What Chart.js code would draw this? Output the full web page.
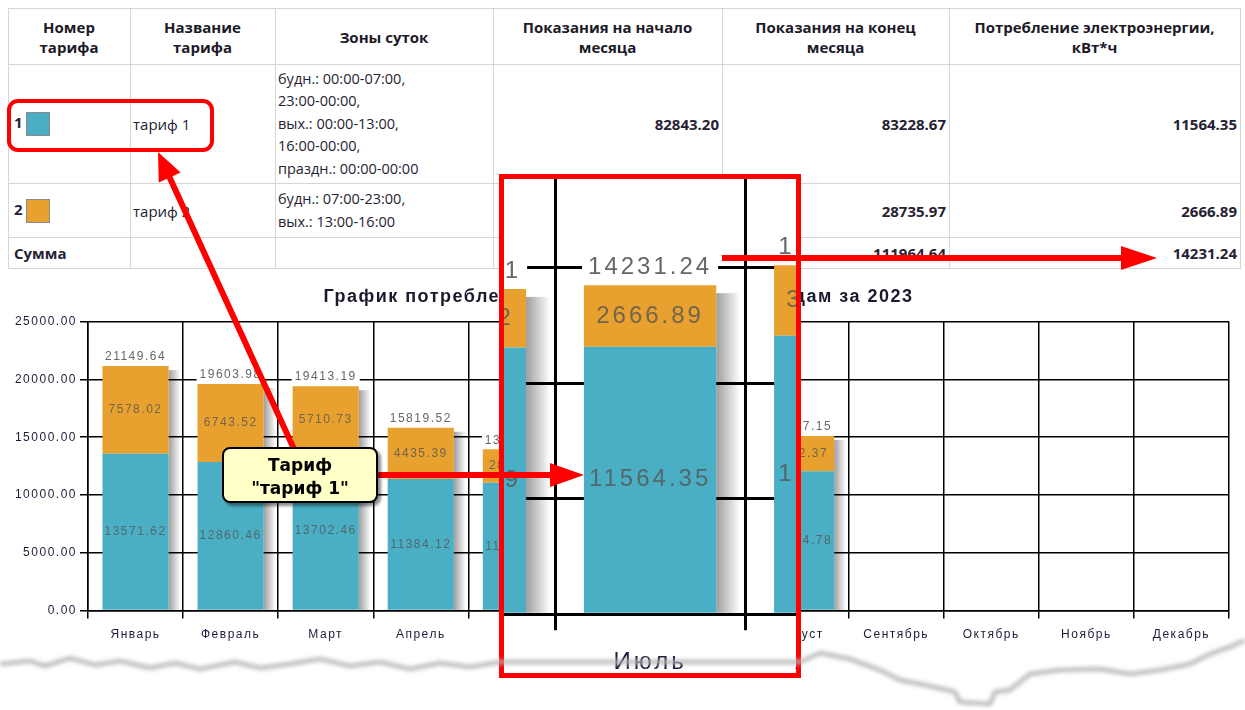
<!DOCTYPE html>
<html lang="ru">
<head>
<meta charset="utf-8">
<title>График потребления электроэнергии</title>
<script src="https://cdn.jsdelivr.net/npm/chart.js@4.4.1/dist/chart.umd.min.js"></script>
<style>
  html, body { margin: 0; padding: 0; background: #fff; }
  body { width: 1245px; height: 710px; position: relative; overflow: hidden; font-family: "Open Sans", sans-serif; color: #262233; }
  table.tariffs { position: absolute; left: 8px; top: 8px; width: 1232px; border-collapse: collapse; table-layout: fixed; }
  table.tariffs th, table.tariffs td { border: 1px solid #d6d6d6; padding: 0 3px 0 2px; font-size: 15px; line-height: 20px; }
  table.tariffs th { font-weight: 700; text-align: center; vertical-align: middle; color: #1c1a28; }
  table.tariffs td.zones { font-size: 14.5px; line-height: 22.5px; }
  table.tariffs td.val { text-align: right; font-weight: 700; }
  table.tariffs td.bold { font-weight: 700; padding-left: 5px; }
  .sw { display: inline-block; width: 22px; height: 22px; border: 1px solid #8a8a8a; vertical-align: middle; margin-left: 3px; }
  #chartBox { position: absolute; left: 0; top: 272px; width: 1245px; height: 391px; }
  #mag { position: absolute; left: 499px; top: 174px; width: 292px; height: 494px; border: 5px solid #ff0000; overflow: hidden; background: #fff; z-index: 2; }
  #magBox { position: absolute; left: -1266px; top: -242px; width: 1245px; height: 391px; transform: scale(2); transform-origin: 0 0; }
  #overlay { position: absolute; left: 0; top: 0; z-index: 3; pointer-events: none; }
</style>
</head>
<body>

<table class="tariffs">
  <colgroup>
    <col style="width:122px"><col style="width:145px"><col style="width:218px">
    <col style="width:229px"><col style="width:227px"><col style="width:291px">
  </colgroup>
  <tr style="height:56px">
    <th>Номер<br>тарифа</th><th>Название<br>тарифа</th><th>Зоны суток</th>
    <th>Показания на начало<br>месяца</th><th>Показания на конец<br>месяца</th><th>Потребление электроэнергии,<br>кВт*ч</th>
  </tr>
  <tr style="height:119px">
    <td class="bold">1<span class="sw" style="background:#4AAFC4"></span></td>
    <td>тариф 1</td>
    <td class="zones">будн.: 00:00-07:00,<br>23:00-00:00,<br>вых.: 00:00-13:00,<br>16:00-00:00,<br>праздн.: 00:00-00:00</td>
    <td class="val">82843.20</td><td class="val">83228.67</td><td class="val">11564.35</td>
  </tr>
  <tr style="height:54px">
    <td class="bold">2<span class="sw" style="background:#E8A12E"></span></td>
    <td>тариф 2</td>
    <td class="zones">будн.: 07:00-23:00,<br>вых.: 13:00-16:00</td>
    <td class="val">28647.07</td><td class="val">28735.97</td><td class="val">2666.89</td>
  </tr>
  <tr style="height:31px">
    <td class="bold">Сумма</td><td></td><td></td>
    <td class="val">111490.27</td><td class="val">111964.64</td><td class="val">14231.24</td>
  </tr>
</table>

<div id="chartBox"><canvas id="chart"></canvas></div>
<div id="mag"><div id="magBox"><canvas id="magChart"></canvas></div></div>

<svg id="overlay" width="1245" height="710" xmlns="http://www.w3.org/2000/svg">
  <defs>
    <filter id="soft" x="-20%" y="-20%" width="140%" height="140%">
      <feDropShadow dx="3" dy="3" stdDeviation="1.5" flood-color="#000" flood-opacity="0.45"/>
    </filter>
    <filter id="blur"><feGaussianBlur stdDeviation="2"/></filter>
  </defs>
  <path id="tear" fill="none" stroke="#b4b4b4" stroke-width="4" filter="url(#blur)"/>
  <rect x="9" y="101" width="203" height="49" rx="9" fill="none" stroke="#ff0000" stroke-width="4"/>
  <g id="arrows" fill="#ff0000"></g>
  <g filter="url(#soft)">
    <rect x="223" y="448" width="154" height="54" rx="7" fill="#ffffc8" stroke="#000" stroke-width="2"/>
  </g>
  <text x="300" y="471" text-anchor="middle" font-family="DejaVu Sans" font-weight="700" font-size="17" fill="#000">Тариф</text>
  <text x="300" y="494" text-anchor="middle" font-family="DejaVu Sans" font-weight="700" font-size="17" fill="#000">"тариф 1"</text>
</svg>

<script>
const months = ["Январь", "Февраль", "Март", "Апрель", "Май", "Июнь", "Июль", "Август", "Сентябрь", "Октябрь", "Ноябрь", "Декабрь"]
const tariff1 = [13571.62, 12860.46, 13702.46, 11384.12, 11061.84, 11538.69, 11564.35, 12044.78, null, null, null, null]
const tariff2 = [7578.02, 6743.52, 5710.73, 4435.39, 2898.56, 2532.42, 2666.89, 3052.37, null, null, null, null]
const totals = [21149.64, 19603.98, 19413.19, 15819.52, 13960.40, 14071.11, 14231.24, 15097.15, null, null, null, null]
const yTicks = [0, 5000, 10000, 15000, 20000, 25000]

const colors = { tariff1: "#4AAFC4", tariff2: "#E8A12E", grid: "#000000", tick: "#1c1c3a" }
const labelFont = '12px "Liberation Sans", Arial, sans-serif'

// canvas letter spacing, the original renders its text wide
const spacingPlugin = {
  id: "spacing",
  beforeUpdate(chart) { chart.ctx.letterSpacing = "1.5px" },
  beforeDraw(chart) { chart.ctx.letterSpacing = "1.5px" }
}

const shadowPlugin = {
  id: "barShadow",
  beforeDatasetsDraw(chart) {
    const ctx = chart.ctx
    const low = chart.getDatasetMeta(0).data
    const high = chart.getDatasetMeta(1).data
    ctx.save()
    low.forEach((bar, i) => {
      if (!totals[i]) return
      const top = high[i].y
      const right = bar.x + bar.width / 2
      const g = ctx.createLinearGradient(right, 0, right + 12, 0)
      g.addColorStop(0, "rgba(0,0,0,0.38)")
      g.addColorStop(1, "rgba(0,0,0,0)")
      ctx.fillStyle = g
      ctx.fillRect(right, top + 4, 12, bar.base - top - 4)
    })
    ctx.restore()
  }
}

const labelPlugin = {
  id: "valueLabels",
  afterDatasetsDraw(chart) {
    const ctx = chart.ctx
    ctx.save()
    ctx.font = labelFont
    ctx.textAlign = "center"
    ctx.textBaseline = "middle"
    chart.data.datasets.forEach((ds, d) => {
      chart.getDatasetMeta(d).data.forEach((bar, i) => {
        const v = ds.data[i]
        if (!v) return
        ctx.fillStyle = "rgba(85,85,85,0.8)"
        ctx.fillText(v.toFixed(2), bar.x, (bar.y + bar.base) / 2)
      })
    })
    chart.getDatasetMeta(1).data.forEach((bar, i) => {
      if (!totals[i]) return
      const text = totals[i].toFixed(2)
      const w = ctx.measureText(text).width
      const y = bar.y - 9
      ctx.fillStyle = "#ffffff"
      ctx.fillRect(bar.x - w / 2 - 3, y - 7, w + 6, 14)
      ctx.fillStyle = "#666666"
      ctx.fillText(text, bar.x, y)
    })
    ctx.restore()
  }
}

function makeConfig(dpr) {
  return {
    type: "bar",
    data: {
      labels: months,
      datasets: [
        { label: "тариф 1", data: tariff1, backgroundColor: colors.tariff1 },
        { label: "тариф 2", data: tariff2, backgroundColor: colors.tariff2 }
      ]
    },
    options: {
      responsive: true,
      maintainAspectRatio: false,
      animation: false,
      devicePixelRatio: dpr,
      barPercentage: 0.87,
      categoryPercentage: 0.8,
      layout: { padding: { left: 8, right: 16, top: 0, bottom: 12 } },
      plugins: {
        legend: { display: false },
        tooltip: { enabled: false },
        title: {
          display: true,
          text: "График потребления электроэнергии по месяцам за 2023",
          color: "#1a1a2e",
          font: { family: '"Liberation Sans", Arial, sans-serif', size: 18, weight: "bold" },
          padding: { top: 14, bottom: 14 }
        }
      },
      scales: {
        x: {
          stacked: true,
          grid: { color: colors.grid, lineWidth: 1.5, tickLength: 8 },
          border: { color: colors.grid, width: 1.5 },
          ticks: { color: colors.tick, padding: 9, font: { family: '"Liberation Sans", Arial, sans-serif', size: 12 } }
        },
        y: {
          stacked: true,
          min: yTicks[0],
          max: yTicks[yTicks.length - 1],
          afterBuildTicks(scale) { scale.ticks = yTicks.map((v) => ({ value: v })) },
          afterFit(scale) { scale.width = 80 },
          grid: { color: colors.grid, lineWidth: 1.5, tickLength: 8 },
          border: { color: colors.grid, width: 1.5 },
          ticks: {
            color: colors.tick,
            padding: 3,
            font: { family: '"Liberation Sans", Arial, sans-serif', size: 12 },
            callback: (v) => Number(v).toFixed(2)
          }
        }
      }
    },
    plugins: [spacingPlugin, shadowPlugin, labelPlugin]
  }
}

new Chart(document.getElementById("chart"), makeConfig(1))
new Chart(document.getElementById("magChart"), makeConfig(2))

// red annotation arrows
function arrow(x1, y1, x2, y2, width, headLen, headHalf) {
  const len = Math.hypot(x2 - x1, y2 - y1)
  const ux = (x2 - x1) / len
  const uy = (y2 - y1) / len
  const bx = x2 - ux * headLen
  const by = y2 - uy * headLen
  const nx = -uy
  const ny = ux
  const hw = width / 2
  const pts = [
    [x1 + nx * hw, y1 + ny * hw], [bx + nx * hw, by + ny * hw],
    [bx + nx * headHalf, by + ny * headHalf], [x2, y2],
    [bx - nx * headHalf, by - ny * headHalf], [bx - nx * hw, by - ny * hw],
    [x1 - nx * hw, y1 - ny * hw]
  ]
  const p = document.createElementNS("http://www.w3.org/2000/svg", "polygon")
  p.setAttribute("points", pts.map((q) => q.join(",")).join(" "))
  document.getElementById("arrows").appendChild(p)
}
arrow(294, 449, 158, 152, 6, 28, 12)
arrow(377, 475, 584, 475, 6, 34, 12)
arrow(722, 258, 1157, 258, 6, 36, 12)

// torn paper edge at the bottom
const tear = [
  [0, 664], [30, 661], [45, 666], [70, 658], [95, 665], [120, 661], [150, 668], [175, 663], [200, 669],
  [235, 662], [260, 668], [290, 664], [320, 659], [350, 666], [380, 662], [410, 669], [440, 663],
  [470, 667], [500, 662], [800, 662], [820, 653], [850, 659], [880, 670], [900, 680], [930, 686],
  [955, 692], [960, 702], [990, 704], [995, 692], [1010, 690], [1030, 674], [1060, 670], [1100, 669],
  [1130, 674], [1160, 670], [1190, 664], [1210, 654], [1230, 647], [1245, 640]
]
document.getElementById("tear").setAttribute("d", "M" + tear.map((q) => q.join(",")).join(" L"))
</script>
</body>
</html>
